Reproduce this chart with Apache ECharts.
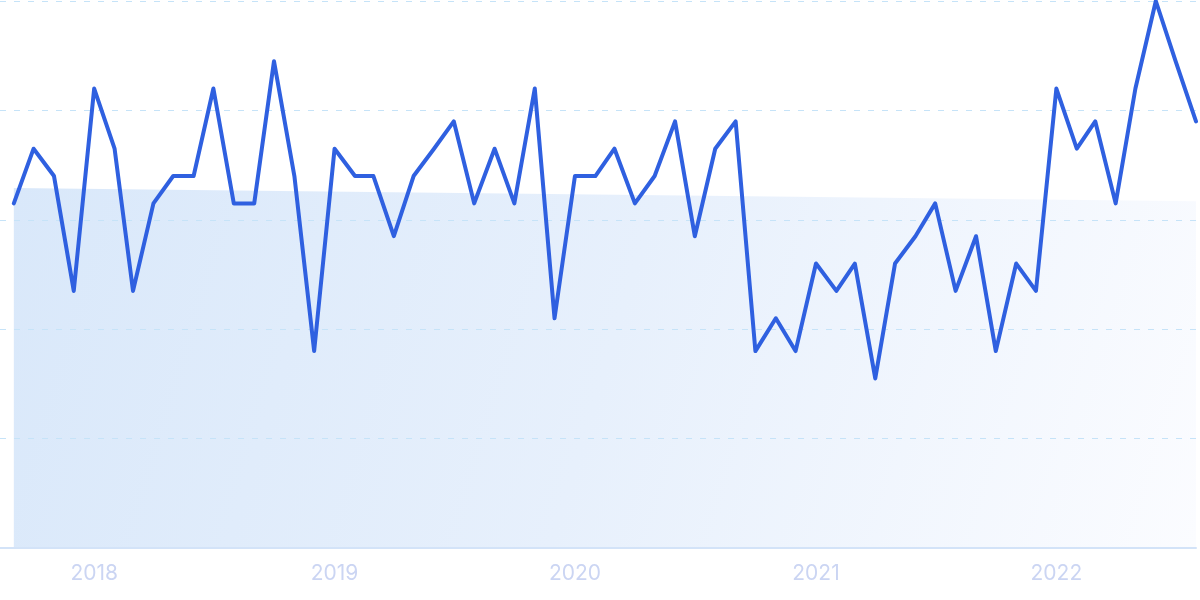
<!DOCTYPE html>
<html>
<head>
<meta charset="utf-8">
<script src="https://cdn.jsdelivr.net/npm/echarts@6/dist/echarts.min.js"></script>
<style>
  html, body { margin: 0; padding: 0; background: #ffffff; }
  #chart { width: 1200px; height: 600px; }
</style>
</head>
<body>
<div id="chart"></div>
<script>
// Months (category labels, year-month)
const months = [
  '2017-09','2017-10','2017-11','2017-12',
  '2018-01','2018-02','2018-03','2018-04','2018-05','2018-06','2018-07','2018-08','2018-09','2018-10','2018-11','2018-12',
  '2019-01','2019-02','2019-03','2019-04','2019-05','2019-06','2019-07','2019-08','2019-09','2019-10','2019-11','2019-12',
  '2020-01','2020-02','2020-03','2020-04','2020-05','2020-06','2020-07','2020-08','2020-09','2020-10','2020-11','2020-12',
  '2021-01','2021-02','2021-03','2021-04','2021-05','2021-06','2021-07','2021-08','2021-09','2021-10','2021-11','2021-12',
  '2022-01','2022-02','2022-03','2022-04','2022-05','2022-06','2022-07','2022-08'
];

// Interest values (0-100)
const values = [
  63, 73, 68, 47,
  84, 73, 47, 63, 68, 68, 84, 63, 63, 89, 68, 36,
  73, 68, 68, 57, 68, 73, 78, 63, 73, 63, 84, 42,
  68, 68, 73, 63, 68, 78, 57, 73, 78, 36, 42, 36,
  52, 47, 52, 31, 52, 57, 63, 47, 57, 36, 52, 47,
  84, 73, 78, 63, 84, 100, 89, 78
];

// Trend (start and end values of the shaded band)
const trendValues = [65.8, 63.4];

// Year tick labels
const yearLabels = ['2018', '2019', '2020', '2021', '2022'];

function toDate(s) {
  const p = s.split('-');
  return new Date(+p[0], +p[1] - 1, 1);
}

const lineData = months.map((m, i) => [toDate(m).getTime(), values[i]]);
const trendData = [
  [toDate(months[0]).getTime(), trendValues[0]],
  [toDate(months[months.length - 1]).getTime(), trendValues[1]]
];

const first = toDate(months[0]);
const axisMin = new Date(first.getFullYear(), first.getMonth(), first.getDate() - 21).getTime();
const axisMax = toDate(months[months.length - 1]).getTime();

const chart = echarts.init(document.getElementById('chart'));
chart.setOption({
  animation: false,
  backgroundColor: '#ffffff',
  textStyle: { fontFamily: 'Inter, "Noto Sans", sans-serif' },
  grid: { left: 0, right: 4, top: 1, bottom: 52, containLabel: false },
  xAxis: {
    type: 'time',
    min: axisMin,
    max: axisMax,
    z: 4,
    axisLine: { show: true, lineStyle: { color: '#d3e3f8', width: 2 } },
    axisTick: { show: false },
    splitLine: { show: false },
    axisLabel: {
      color: '#cbd5f3',
      fontSize: 21,
      margin: 15,
      hideOverlap: false,
      formatter: function (v) {
        const d = new Date(v);
        const y = String(d.getFullYear());
        if (d.getMonth() === 0 && d.getDate() === 1 && yearLabels.indexOf(y) >= 0) return y;
        return '';
      }
    }
  },
  yAxis: {
    type: 'value',
    min: 0,
    max: 100,
    interval: 20,
    z: 2,
    axisLine: { show: false },
    axisTick: { show: false },
    axisLabel: { show: false },
    splitLine: { show: true, lineStyle: { color: '#c6e3f8', type: [6, 8], width: 1 } }
  },
  series: [
    {
      name: 'trend',
      type: 'line',
      data: trendData,
      symbol: 'none',
      z: 1,
      lineStyle: { width: 0, opacity: 0 },
      areaStyle: {
        opacity: 1,
        color: new echarts.graphic.LinearGradient(0, 0, 1, 1, [
          { offset: 0, color: '#d9e8fa' },
          { offset: 0.5, color: '#e7f0fc' },
          { offset: 1, color: '#fbfcff' }
        ])
      },
      silent: true
    },
    {
      name: 'interest',
      type: 'line',
      data: lineData,
      symbol: 'none',
      z: 3,
      lineStyle: { color: '#2f60e0', width: 4, join: 'round', cap: 'round' }
    }
  ]
});
</script>
</body>
</html>
